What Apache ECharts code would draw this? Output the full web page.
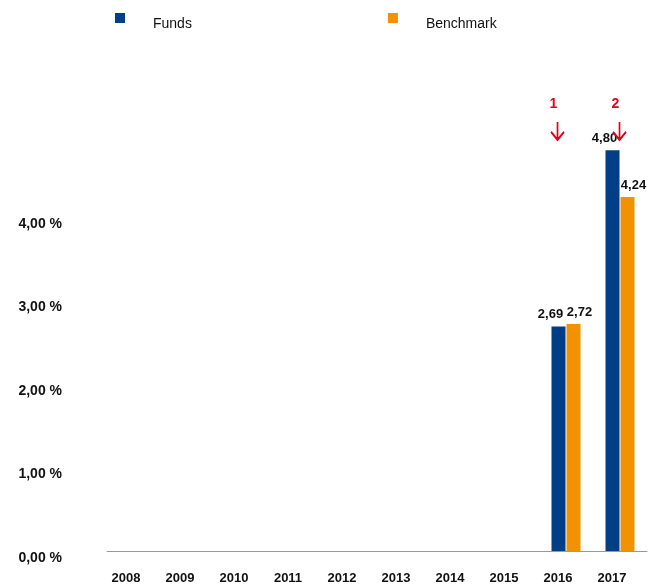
<!DOCTYPE html>
<html>
<head>
<meta charset="utf-8">
<script src="https://cdn.jsdelivr.net/npm/echarts@6/dist/echarts.min.js"></script>
<style>
  html, body { margin: 0; padding: 0; background: #fff; }
  #main { width: 657px; height: 587px; }
</style>
</head>
<body>
<div id="main"></div>
<script>
// data
const years = ["2008", "2009", "2010", "2011", "2012", "2013", "2014", "2015", "2016", "2017"];
const funds = [null, null, null, null, null, null, null, null, 2.69, 4.80];
const benchmark = [null, null, null, null, null, null, null, null, 2.72, 4.24];
const yTicks = [0, 1, 2, 3, 4];
const notes = [
  { year: "2016", label: "1", value: 5.03 },
  { year: "2017", label: "2", value: 5.03 },
];

const fmt = (v) => v.toFixed(2).replace(".", ",");
const red = "#e2001a";

const chart = echarts.init(document.getElementById("main"));
const option = {
  backgroundColor: "#fff",
  animation: false,
  textStyle: { fontFamily: "Liberation Sans, Arial, sans-serif" },
  legend: {
    left: 110,
    top: 8,
    itemWidth: 10,
    itemHeight: 22,
    itemGap: 196,
    // square sits at the top of the item, text lower down like the original
    icon: "path://M0,0 L10,0 L10,10 L0,10 Z M0,22 L0.01,22",
    textStyle: { fontSize: 14, color: "#111", padding: [0, 0, 0, 23] },
    data: ["Funds", "Benchmark"],
  },
  grid: { left: 107, right: 10, top: 50, bottom: 36 },
  xAxis: {
    type: "category",
    data: years,
    axisLine: { lineStyle: { color: "#999", width: 1 } },
    axisTick: { show: false },
    axisLabel: {
      margin: 21,
      fontSize: 13,
      fontWeight: "bold",
      color: "#111",
      padding: [0, 16, 0, 0],
    },
  },
  yAxis: {
    type: "value",
    min: 0,
    max: 6,
    interval: 1,
    axisLine: { show: false },
    axisTick: { show: false },
    splitLine: { show: false },
    axisLabel: {
      margin: 45,
      fontSize: 14,
      fontWeight: "bold",
      color: "#111",
      verticalAlign: "top",
      formatter: (v) => (yTicks.includes(v) ? fmt(v) + " %" : ""),
    },
  },
  series: [
    {
      name: "Funds",
      type: "bar",
      data: funds,
      barWidth: 14,
      barGap: "7%",
      itemStyle: { color: "#003f87" },
      label: {
        show: true,
        position: "top",
        distance: 5,
        offset: [-8, 0],
        fontSize: 13,
        fontWeight: "bold",
        color: "#111",
        formatter: (p) => fmt(p.value),
      },
      markPoint: {
        symbol: "path://M7,0 L7,18 M0,10 L7,18 L14,10",
        symbolSize: [13, 18],
        itemStyle: { color: "none", borderColor: red, borderWidth: 2 },
        label: {
          show: true,
          position: "top",
          distance: 8,
          offset: [-4, 0],
          fontSize: 14,
          fontWeight: "bold",
          color: red,
          formatter: (p) => p.name,
        },
        data: notes.map((n, i) => ({
          name: n.label,
          coord: [n.year, n.value],
          symbolOffset: [i === 0 ? -1 : 7, 0],
        })),
      },
    },
    {
      name: "Benchmark",
      type: "bar",
      data: benchmark,
      barWidth: 14,
      itemStyle: { color: "#f39200" },
      label: {
        show: true,
        position: "top",
        distance: 5,
        offset: [6, 0],
        fontSize: 13,
        fontWeight: "bold",
        color: "#111",
        formatter: (p) => fmt(p.value),
      },
    },
  ],
};
chart.setOption(option);
</script>
</body>
</html>
